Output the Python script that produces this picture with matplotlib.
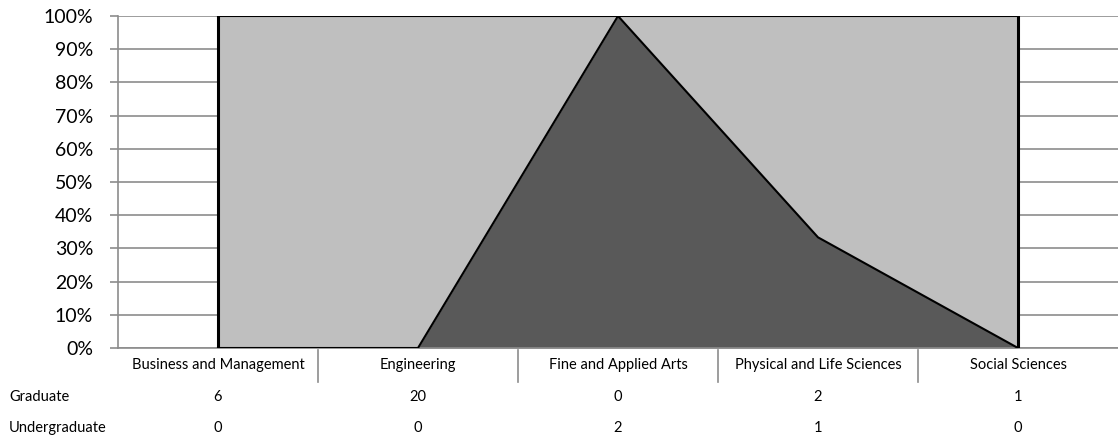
import matplotlib
import matplotlib.pyplot as plt
import matplotlib.transforms as mtransforms
import numpy as np

matplotlib.use('Agg')

categories = ['Business and Management', 'Engineering', 'Fine and Applied Arts',
              'Physical and Life Sciences', 'Social Sciences']
graduate = [6, 20, 0, 2, 1]
undergraduate = [0, 0, 2, 1, 0]
series_names = ['Graduate', 'Undergraduate']
y_ticks = [0, 10, 20, 30, 40, 50, 60, 70, 80, 90, 100]

plt.rcParams['font.family'] = ['Lato', 'DejaVu Sans']

grad = np.array(graduate, dtype=float)
under = np.array(undergraduate, dtype=float)
total = grad + under
under_pct = under / total
x = np.arange(len(categories))

fig = plt.figure(figsize=(11.18, 4.42), dpi=100)
ax = fig.add_axes([118 / 1118, 1 - 348 / 442, 1000 / 1118, 332 / 442])

ax.set_xlim(-0.5, len(categories) - 0.5)
ax.set_ylim(0, 1)

# gridlines
for t in y_ticks:
    ax.axhline(t / 100, color='#8c8c8c', lw=1.2, zorder=1)

ax.fill_between(x, under_pct, 1, color='#bfbfbf', lw=0, zorder=2)
ax.fill_between(x, 0, under_pct, color='#595959', lw=0, zorder=2)
ax.plot(x, under_pct, color='black', lw=1.5, zorder=3)
ax.plot([x[0], x[-1]], [1, 1], color='black', lw=1.5, zorder=3)
ax.plot([x[0], x[0]], [0, 1], color='black', lw=2.2, zorder=3)
ax.plot([x[-1], x[-1]], [0, 1], color='black', lw=2.2, zorder=3)

for s in ['top', 'right']:
    ax.spines[s].set_visible(False)
ax.spines['left'].set_color('#8c8c8c')
ax.spines['left'].set_linewidth(1.2)
ax.spines['bottom'].set_color('#8c8c8c')
ax.spines['bottom'].set_linewidth(1.2)

ax.set_yticks([t / 100 for t in y_ticks])
ax.set_yticklabels([f'{t}%' for t in y_ticks], fontsize=14)
ax.tick_params(axis='y', length=6, width=1.2, color='#8c8c8c', pad=12)
ax.set_xticks([])

# data table below the axis
fs = 10.5
trans = mtransforms.blended_transform_factory(ax.transData, fig.transFigure)
for i, cat in enumerate(categories):
    ax.text(i, 1 - 365 / 442, cat, transform=trans, ha='center', va='center', fontsize=fs)
    ax.text(i, 1 - 397 / 442, str(graduate[i]), transform=trans, ha='center', va='center', fontsize=fs)
    ax.text(i, 1 - 428 / 442, str(undergraduate[i]), transform=trans, ha='center', va='center', fontsize=fs)
for i in range(1, len(categories)):
    ax.plot([i - 0.5, i - 0.5], [1 - 350 / 442, 1 - 382 / 442], transform=trans,
            color='#8c8c8c', lw=1.2, clip_on=False)

fig.text(9 / 1118, 1 - 397 / 442, series_names[0], ha='left', va='center', fontsize=fs)
fig.text(9 / 1118, 1 - 428 / 442, series_names[1], ha='left', va='center', fontsize=fs)

fig.savefig('out.png', dpi=100)
